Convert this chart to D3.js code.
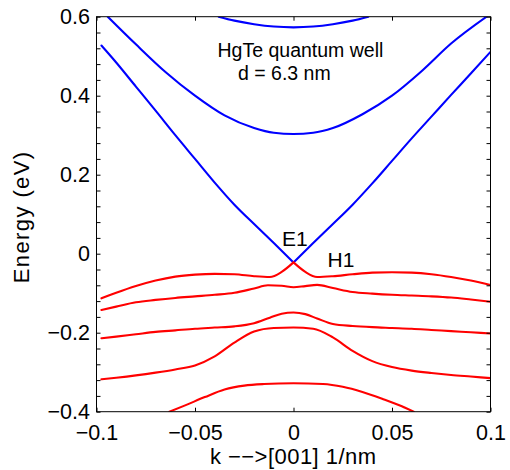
<!DOCTYPE html>
<html>
<head>
<meta charset="utf-8">
<script src="https://cdn.jsdelivr.net/npm/d3@7"></script>
<style>
  html, body { margin: 0; padding: 0; background: #fff; }
  svg { display: block; font-family: "Liberation Sans", Arial, Helvetica, sans-serif; }
</style>
</head>
<body>
<svg id="chart" width="510" height="470"></svg>
<script>
// ---- data (k in 1/nm, energy in eV) ----
const xTickValues = [-0.1, -0.05, 0, 0.05, 0.1];
const xTickLabels = ["\u22120.1", "\u22120.05", "0", "0.05", "0.1"];
const yLabelValues = [-0.4, -0.2, 0, 0.2, 0.4, 0.6];
const yTickLabels = ["\u22120.4", "\u22120.2", "0", "0.2", "0.4", "0.6"];
const yMinorStep = 0.04;

// conduction bands (blue)
const e1K = [-0.0975, -0.09, -0.08, -0.07, -0.06, -0.05, -0.04, -0.03, -0.02, -0.01, 0, 0.01, 0.02, 0.03, 0.04, 0.05, 0.06, 0.07, 0.08, 0.09, 0.1];
const e1E = [0.527, 0.484, 0.423, 0.362, 0.300, 0.240, 0.180, 0.124, 0.075, 0.027, -0.022, 0.027, 0.075, 0.124, 0.178, 0.235, 0.292, 0.347, 0.402, 0.456, 0.511];

const e2K = [-0.0943, -0.08, -0.065, -0.05, -0.035, -0.02, -0.01, 0, 0.01, 0.02, 0.035, 0.05, 0.065, 0.08, 0.098];
const e2E = [0.600, 0.530, 0.460, 0.400, 0.350, 0.318, 0.306, 0.303, 0.306, 0.318, 0.353, 0.400, 0.462, 0.532, 0.600];

const e3K = [-0.038, -0.03, -0.02, -0.01, 0, 0.01, 0.02, 0.03, 0.038];
const e3E = [0.600, 0.590, 0.581, 0.575, 0.573, 0.575, 0.581, 0.590, 0.600];

// valence bands (red)
const h1K = [-0.0975, -0.09, -0.08, -0.07, -0.06, -0.05, -0.04, -0.03, -0.02, -0.012, -0.006, 0, 0.006, 0.012, 0.02, 0.03, 0.04, 0.05, 0.06, 0.07, 0.08, 0.09, 0.1];
const h1E = [-0.113, -0.099, -0.082, -0.068, -0.058, -0.053, -0.051, -0.052, -0.057, -0.059, -0.046, -0.022, -0.046, -0.059, -0.057, -0.052, -0.048, -0.047, -0.048, -0.052, -0.059, -0.068, -0.079];

const h2K = [-0.0975, -0.09, -0.08, -0.07, -0.06, -0.05, -0.04, -0.03, -0.02, -0.013, -0.006, 0, 0.006, 0.012, 0.02, 0.03, 0.04, 0.05, 0.06, 0.07, 0.08, 0.09, 0.1];
const h2E = [-0.1425, -0.134, -0.123, -0.117, -0.112, -0.108, -0.104, -0.099, -0.088, -0.080, -0.081, -0.085, -0.082, -0.079, -0.087, -0.097, -0.101, -0.104, -0.106, -0.108, -0.111, -0.116, -0.1215];

const h3K = [-0.0975, -0.09, -0.08, -0.07, -0.06, -0.05, -0.04, -0.03, -0.02, -0.012, -0.006, 0, 0.006, 0.012, 0.02, 0.03, 0.04, 0.05, 0.06, 0.07, 0.08, 0.09, 0.1];
const h3E = [-0.214, -0.210, -0.204, -0.198, -0.194, -0.190, -0.187, -0.184, -0.176, -0.162, -0.152, -0.149, -0.153, -0.164, -0.178, -0.183, -0.186, -0.188, -0.190, -0.193, -0.196, -0.199, -0.202];

const h4K = [-0.0975, -0.09, -0.08, -0.07, -0.06, -0.05, -0.04, -0.03, -0.02, -0.01, 0, 0.01, 0.02, 0.03, 0.04, 0.05, 0.06, 0.07, 0.08, 0.09, 0.1];
const h4E = [-0.318, -0.314, -0.308, -0.301, -0.293, -0.283, -0.260, -0.225, -0.197, -0.188, -0.187, -0.190, -0.212, -0.246, -0.272, -0.287, -0.296, -0.302, -0.307, -0.311, -0.315];

const h5K = [-0.063, -0.055, -0.045, -0.035, -0.025, -0.015, 0, 0.015, 0.025, 0.035, 0.045, 0.055, 0.061];
const h5E = [-0.400, -0.384, -0.363, -0.344, -0.334, -0.330, -0.328, -0.330, -0.337, -0.350, -0.367, -0.386, -0.400];

const annotTitle = "HgTe quantum well";
const annotD = "d = 6.3 nm";
const xLabel = "k \u2212\u2212>[001] 1/nm";
const yLabel = "Energy (eV)";

// ---- drawing ----
const svg = d3.select("#chart");
const x = d3.scaleLinear().domain([-0.1, 0.1]).range([96.5, 490.5]);
const y = d3.scaleLinear().domain([-0.4, 0.6]).range([411.7, 16.7]);

svg.append("defs").append("clipPath").attr("id", "plotclip")
  .append("rect").attr("x", x(-0.1)).attr("y", y(0.6))
  .attr("width", x(0.1) - x(-0.1)).attr("height", y(-0.4) - y(0.6));

const series = [
  {k: e1K, e: e1E, color: "#0000ff", cusp: true},
  {k: e2K, e: e2E, color: "#0000ff", cusp: false},
  {k: e3K, e: e3E, color: "#0000ff", cusp: false},
  {k: h1K, e: h1E, color: "#ff0000", cusp: true},
  {k: h2K, e: h2E, color: "#ff0000", cusp: false},
  {k: h3K, e: h3E, color: "#ff0000", cusp: false},
  {k: h4K, e: h4E, color: "#ff0000", cusp: false},
  {k: h5K, e: h5E, color: "#ff0000", cusp: false}
];

const line = d3.line().x(d => x(d[0])).y(d => y(d[1])).curve(d3.curveMonotoneX);
const curves = svg.append("g").attr("clip-path", "url(#plotclip)");
series.forEach(s => {
  const pts = s.k.map((k, i) => [k, s.e[i]]);
  const parts = s.cusp ? [pts.filter(p => p[0] <= 0), pts.filter(p => p[0] >= 0)] : [pts];
  parts.forEach(p => {
    curves.append("path").attr("d", line(p))
      .attr("fill", "none").attr("stroke", s.color)
      .attr("stroke-width", 2.1).attr("stroke-linejoin", "round").attr("stroke-linecap", "round");
  });
});

// axes
const yMinorValues = d3.range(0, 26).map(i => +(-0.4 + i * yMinorStep).toFixed(2));
const fmtY = v => {
  const i = yLabelValues.findIndex(t => Math.abs(t - v) < 1e-9);
  return i >= 0 ? yTickLabels[i] : "";
};
const fmtX = v => xTickLabels[xTickValues.findIndex(t => Math.abs(t - v) < 1e-9)];

const tickLen = 4;
const styleAxis = g => {
  g.select(".domain").remove();
  g.selectAll(".tick line").attr("stroke", "#000").attr("stroke-width", 1);
  g.selectAll(".tick text").attr("fill", "#000").attr("font-size", 21.5)
    .attr("font-family", "Liberation Sans, Arial, sans-serif");
};

svg.append("g").attr("transform", `translate(0,${y(-0.4)})`)
  .call(d3.axisBottom(x).tickValues(xTickValues).tickFormat(fmtX).tickSizeInner(-tickLen).tickSizeOuter(0).tickPadding(13))
  .call(styleAxis);
svg.append("g").attr("transform", `translate(0,${y(0.6)})`)
  .call(d3.axisTop(x).tickValues(xTickValues).tickFormat(() => "").tickSizeInner(-tickLen).tickSizeOuter(0))
  .call(styleAxis);
svg.append("g").attr("transform", `translate(${x(-0.1)},0)`)
  .call(d3.axisLeft(y).tickValues(yMinorValues).tickFormat(fmtY).tickSizeInner(-tickLen).tickSizeOuter(0).tickPadding(6.5))
  .call(styleAxis);
svg.append("g").attr("transform", `translate(${x(0.1)},0)`)
  .call(d3.axisRight(y).tickValues(yMinorValues).tickFormat(() => "").tickSizeInner(-tickLen).tickSizeOuter(0))
  .call(styleAxis);

// frame
svg.append("rect").attr("x", x(-0.1)).attr("y", y(0.6))
  .attr("width", x(0.1) - x(-0.1)).attr("height", y(-0.4) - y(0.6))
  .attr("fill", "none").attr("stroke", "#000").attr("stroke-width", 1);

// annotations
svg.append("text").attr("x", 217.5).attr("y", 56.5).attr("font-size", 19.5).text(annotTitle);
svg.append("text").attr("x", 238).attr("y", 79.5).attr("font-size", 19.5).text(annotD);
svg.append("text").attr("x", 282).attr("y", 245.5).attr("font-size", 21).text("E1");
svg.append("text").attr("x", 327.5).attr("y", 267).attr("font-size", 21).text("H1");

// axis labels
svg.append("text").attr("x", 210).attr("y", 463.5)
  .attr("font-size", 22).attr("textLength", 166).attr("lengthAdjust", "spacing").text(xLabel);
svg.append("text").attr("transform", "translate(28.5,283.3) rotate(-90)")
  .attr("font-size", 22).attr("textLength", 131.5).attr("lengthAdjust", "spacing").text(yLabel);
</script>
</body>
</html>
